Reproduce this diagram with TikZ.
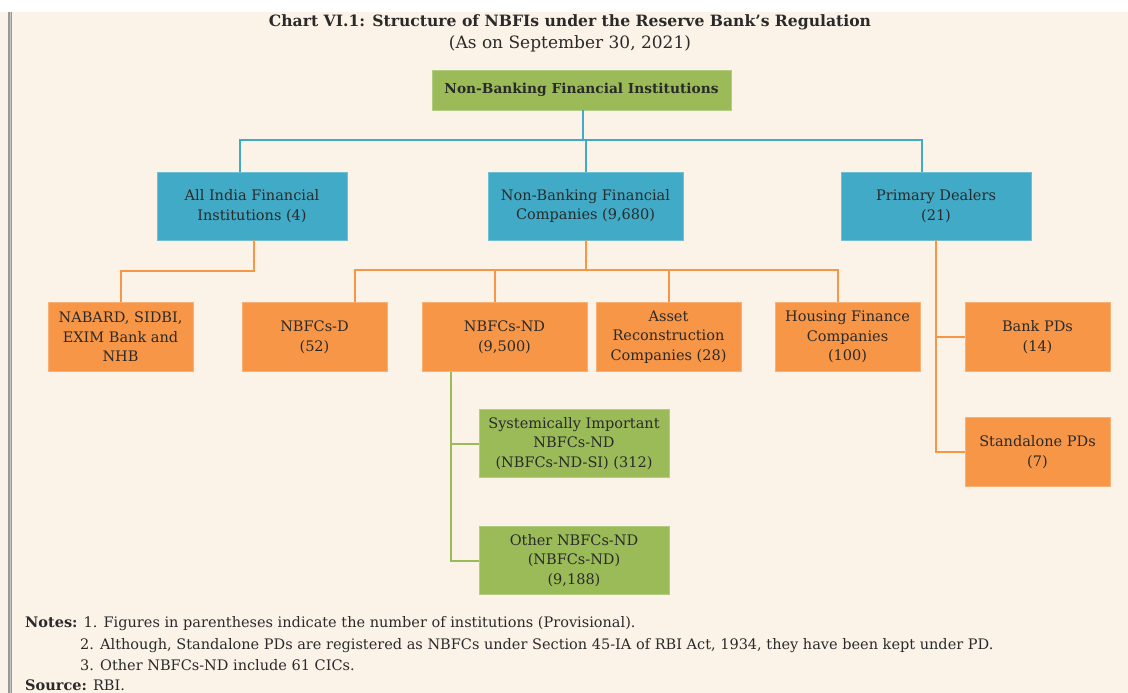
\documentclass[tikz,border=0pt]{standalone}
\usepackage{fontspec}
\setmainfont{DejaVu Serif}
\definecolor{bgc}{HTML}{FBF3E8}
\definecolor{grn}{HTML}{9BBB59}
\definecolor{blu}{HTML}{41AAC6}
\definecolor{org}{HTML}{F79646}
\definecolor{txt}{HTML}{2A2A2A}
\begin{document}
\begin{tikzpicture}[x=1pt,y=-1pt,
  box/.style={rectangle, inner sep=0pt, align=center, text=txt,
    font=\fontsize{14.5}{19.5}\selectfont, line width=0.8pt},
  gbox/.style={box, fill=grn, draw=grn!75!white},
  bbox/.style={box, fill=blu, draw=blu!75!white},
  obox/.style={box, fill=org, draw=org!75!white},
  gl/.style={draw=grn, line width=2pt},
  bl/.style={draw=blu, line width=2pt},
  ol/.style={draw=org, line width=2pt},
  note/.style={anchor=base west, inner sep=0pt, text=txt, font=\fontsize{14.5}{17}\selectfont}]
\useasboundingbox (0,0) rectangle (1128,693);
\fill[white] (-2,-2) rectangle (1131,12);
\fill[bgc] (-2,12) rectangle (1131,696);
\fill[gray!80] (8,12) rectangle (12,696);
\fill[gray!45] (9.5,12) rectangle (10.5,696);

\node[inner sep=0pt, text=txt, font=\bfseries\fontsize{15.6}{18}\selectfont] (title) at (570,22)
  {Chart VI.1: Structure of NBFIs under the Reserve Bank's Regulation};
\node[inner sep=0pt, text=txt, font=\fontsize{17}{20}\selectfont] (sub) at (570,44)
  {(As on September 30, 2021)};

\node[gbox, minimum width=299pt, minimum height=40pt, font=\bfseries\fontsize{13.75}{16}\selectfont] (top) at (581.5,90)
  {Non-Banking Financial Institutions};

\node[bbox, minimum width=190pt, minimum height=68pt] (aifi) at (252,206) {All India Financial\\Institutions (4)};
\node[bbox, minimum width=195pt, minimum height=68pt] (nbfc) at (585.5,206) {Non-Banking Financial\\Companies (9,680)};
\node[bbox, minimum width=190pt, minimum height=68pt] (pd) at (936,206) {Primary Dealers\\(21)};

\node[obox, minimum width=145pt, minimum height=69pt] (nab) at (120.5,337) {NABARD, SIDBI,\\EXIM Bank and\\NHB};
\node[obox, minimum width=145pt, minimum height=69pt] (nbd) at (314.5,337) {NBFCs-D\\(52)};
\node[obox, minimum width=165pt, minimum height=69pt] (nbnd) at (504.5,337) {NBFCs-ND\\(9,500)};
\node[obox, minimum width=145pt, minimum height=69pt] (arc) at (668.5,337) {Asset\\Reconstruction\\Companies (28)};
\node[obox, minimum width=145pt, minimum height=69pt] (hfc) at (847.5,337) {Housing Finance\\Companies\\(100)};
\node[obox, minimum width=145pt, minimum height=69pt] (bank) at (1037.5,337) {Bank PDs\\(14)};
\node[obox, minimum width=145pt, minimum height=69pt] (sa) at (1037.5,452) {Standalone PDs\\(7)};

\node[gbox, minimum width=190pt, minimum height=68pt] (si) at (574,443.5) {Systemically Important\\NBFCs-ND\\(NBFCs-ND-SI) (312)};
\node[gbox, minimum width=190pt, minimum height=68pt] (oth) at (574,560.5) {Other NBFCs-ND\\(NBFCs-ND)\\(9,188)};

% connectors
\coordinate (tj) at (583,140);
\draw[bl] (top.south -| tj) -- (tj);
\draw[bl] ([xshift=-12pt]aifi.north) |- (tj) -| ([xshift=-14pt]pd.north);
\draw[bl] (tj) -| (nbfc.north);

\coordinate (aj) at (254,271);
\draw[ol] (aifi.south -| aj) -- (aj) -| (nab.north);

\coordinate (nj) at (586,270);
\draw[ol] (nbfc.south -| nj) -- (nj);
\draw[ol] ([xshift=40pt]nbd.north) |- (nj) -| ([xshift=-10pt]hfc.north);
\draw[ol] ([xshift=-9.5pt]nbnd.north) -- ([xshift=-9.5pt]nbnd.north |- nj);
\draw[ol] (arc.north) -- (arc.north |- nj);

\draw[ol] (pd.south) |- (bank.west);
\draw[ol] (pd.south) |- (sa.west);

\draw[gl] ([xshift=29pt]nbnd.south west) |- (si.west);
\draw[gl] ([xshift=29pt]nbnd.south west) |- (oth.west);

% notes
\node[note] (n1) at (25,627) {\textbf{Notes:} 1. Figures in parentheses indicate the number of institutions (Provisional).};
\node[note] (n2) at (80,649) {2. Although, Standalone PDs are registered as NBFCs under Section 45-IA of RBI Act, 1934, they have been kept under PD.};
\node[note] (n3) at (80,670) {3. Other NBFCs-ND include 61 CICs.};
\node[note] (src) at (25,690) {\textbf{Source:} RBI.};
\end{tikzpicture}
\end{document}
